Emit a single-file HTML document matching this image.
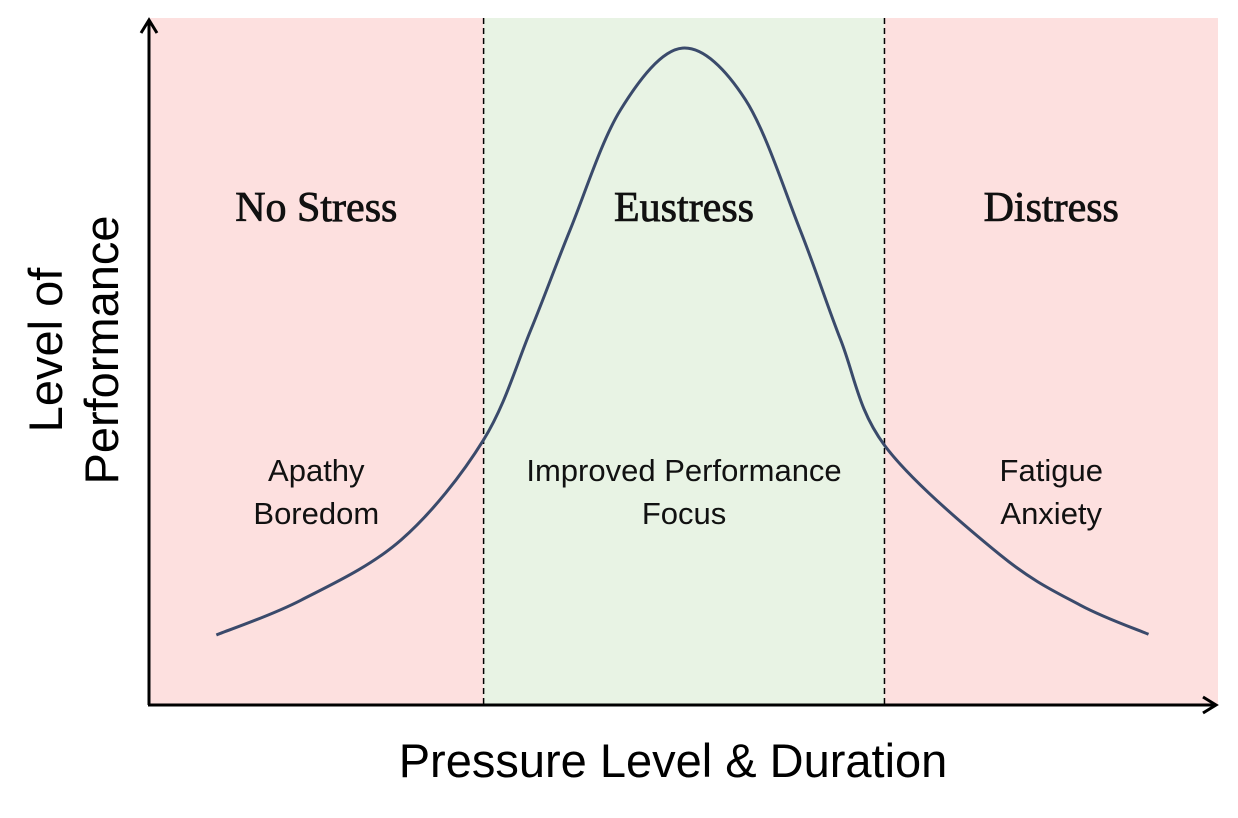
<!DOCTYPE html>
<html><head><meta charset="utf-8"><style>
html,body{margin:0;padding:0;background:#fff;}
svg{display:block;}
.serif{font-family:"Liberation Serif",serif;}
.sans{font-family:"Liberation Sans",sans-serif;}
</style></head><body>
<svg id="chart" width="1238" height="818" viewBox="0 0 1238 818">
<g id="bands"></g>
<g id="curve"></g>
<g id="axes">
  <line x1="149" y1="705" x2="149" y2="22" stroke="#000" stroke-width="3"/>
  <polyline points="141,33 149,20 157,33" fill="none" stroke="#000" stroke-width="3"/>
  <line x1="148" y1="705" x2="1214" y2="705" stroke="#000" stroke-width="3"/>
  <polyline points="1203,697 1216,705 1203,713" fill="none" stroke="#000" stroke-width="3"/>
</g>
<g id="labels"></g>
<text class="sans" x="673" y="777" font-size="47" text-anchor="middle" fill="#000">Pressure Level &amp; Duration</text>
<g transform="translate(62,350) rotate(-90)">
  <text class="sans" x="0" y="0" font-size="47" text-anchor="middle" fill="#000">Level of</text>
  <text class="sans" x="0" y="56" font-size="47" text-anchor="middle" fill="#000">Performance</text>
</g>
</svg>
<script>
const zoneNames = ["No Stress","Eustress","Distress"];
const zoneBounds = [0, 3.13, 6.88, 10];
const zoneSubLabels = [["Apathy","Boredom"],["Improved Performance","Focus"],["Fatigue","Anxiety"]];
const curveX = [0.63,1.42,2.36,3.13,3.57,3.94,4.41,4.99,5.58,6.09,6.47,6.88,7.96,8.71,9.35];
const curveY = [10.3,15.4,24.3,39.0,55.1,69.9,87.5,96.6,89.0,69.9,53.7,38.2,22.1,14.7,10.4];

const NS="http://www.w3.org/2000/svg";
const xs = v => 149 + v*106.9;
const ys = v => 705 - v*6.8;
function mk(tag, attrs, parent){const e=document.createElementNS(NS,tag);for(const k in attrs)e.setAttribute(k,attrs[k]);parent.appendChild(e);return e;}
const bands=document.getElementById('bands'), labels=document.getElementById('labels'), curveG=document.getElementById('curve');
const fills=["#fde0df","#e8f3e4","#fde0df"];
for(let i=0;i<zoneNames.length;i++){
  const x0=xs(zoneBounds[i]), x1=xs(zoneBounds[i+1]);
  const r=mk('rect',{x:x0,y:18,width:x1-x0,height:687,fill:fills[i]},bands);
  
  
  const cx=(x0+x1)/2;
  const t=mk('text',{x:cx,y:221,'font-size':42,'text-anchor':'middle',fill:'#111',stroke:'#111','stroke-width':0.8,class:'serif'},labels);
  t.textContent=zoneNames[i];
  
  
  zoneSubLabels[i].forEach((s,j)=>{
    const st=mk('text',{x:cx,y:481+j*43,'font-size':31,'text-anchor':'middle',fill:'#111',class:'sans'},labels);
    st.textContent=s;
    
    
  });
}
for(let i=1;i<zoneBounds.length-1;i++){
  const l=mk('line',{x1:xs(zoneBounds[i]),y1:18,x2:xs(zoneBounds[i]),y2:705,stroke:'#000','stroke-width':1.5,'stroke-dasharray':'6,4'},bands);
  
  
}
const P=curveX.map((x,i)=>[xs(x),ys(curveY[i])]);
let d='M'+P[0][0]+','+P[0][1];
for(let i=0;i<P.length-1;i++){
  const p0=P[i-1]||P[i],p1=P[i],p2=P[i+1],p3=P[i+2]||P[i+1];
  const c1=[p1[0]+(p2[0]-p0[0])/6,p1[1]+(p2[1]-p0[1])/6];
  const c2=[p2[0]-(p3[0]-p1[0])/6,p2[1]-(p3[1]-p1[1])/6];
  d+=` C${c1[0]},${c1[1]} ${c2[0]},${c2[1]} ${p2[0]},${p2[1]}`;
}
const path=mk('path',{d:d,fill:'none',stroke:'#3a4a6b','stroke-width':3},curveG);


</script>
</body></html>
